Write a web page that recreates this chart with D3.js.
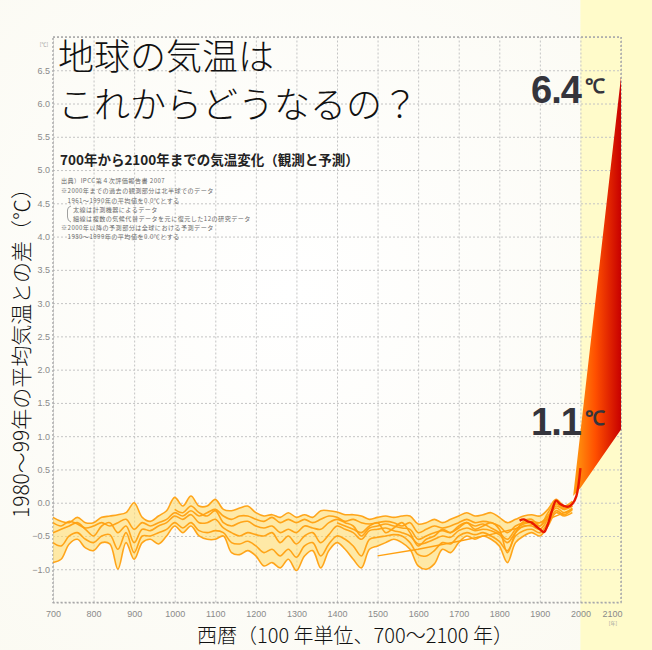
<!DOCTYPE html>
<html><head><meta charset="utf-8">
<script src="https://cdn.jsdelivr.net/npm/d3@7"></script>
<style>
html,body{margin:0;padding:0;background:#fdfcf7;}
svg{display:block;}
</style></head>
<body>
<svg id="c" width="652" height="650"></svg>
<script>
// ---- data ----
const years = d3.range(700, 1981, 20); // 700..1980
const seriesA = [-0.22,-0.28,-0.3,-0.22,-0.3,-0.3,-0.22,-0.2,-0.18,-0.15,
  0.0,-0.22,-0.28,-0.2,-0.12,0.08,-0.05,0.1,-0.05,-0.05,
  0.05,-0.1,-0.12,-0.08,-0.05,-0.15,-0.2,-0.18,-0.22,-0.15,
  -0.22,-0.18,-0.22,-0.12,-0.12,-0.14,-0.18,-0.18,-0.2,-0.25,
  -0.22,-0.2,-0.22,-0.2,-0.2,-0.32,-0.3,-0.25,-0.3,-0.25,
  -0.2,-0.15,-0.2,-0.18,-0.15,-0.22,-0.3,-0.25,-0.2,-0.18,
  -0.2,-0.1,0.05,-0.05,0.02];
const seriesB = [-0.3,-0.35,-0.28,-0.32,-0.38,-0.35,-0.3,-0.35,-0.3,-0.25,
  -0.4,-0.3,-0.35,-0.3,-0.25,-0.15,-0.2,-0.12,-0.2,-0.15,
  -0.1,-0.2,-0.25,-0.2,-0.2,-0.25,-0.28,-0.22,-0.3,-0.25,
  -0.3,-0.25,-0.3,-0.25,-0.2,-0.22,-0.28,-0.25,-0.3,-0.32,
  -0.3,-0.28,-0.3,-0.35,-0.3,-0.45,-0.4,-0.35,-0.38,-0.35,
  -0.3,-0.25,-0.3,-0.28,-0.3,-0.35,-0.45,-0.35,-0.3,-0.28,
  -0.3,-0.2,-0.05,-0.1,-0.05];
const seriesC = [-0.45,-0.4,-0.35,-0.3,-0.4,-0.5,-0.35,-0.3,-0.45,-0.35,
  -0.6,-0.4,-0.42,-0.35,-0.3,-0.2,-0.25,-0.18,-0.3,-0.3,
  -0.25,-0.38,-0.45,-0.5,-0.45,-0.48,-0.5,-0.45,-0.6,-0.5,
  -0.62,-0.5,-0.45,-0.6,-0.48,-0.35,-0.4,-0.45,-0.55,-0.42,
  -0.4,-0.38,-0.42,-0.45,-0.5,-0.62,-0.6,-0.55,-0.5,-0.52,
  -0.42,-0.38,-0.42,-0.4,-0.42,-0.48,-0.6,-0.45,-0.35,-0.35,
  -0.4,-0.25,-0.08,-0.15,-0.08];
const seriesD = [-0.6,-0.65,-0.5,-0.45,-0.55,-0.6,-0.5,-0.48,-0.7,-0.45,
  -0.75,-0.5,-0.5,-0.45,-0.4,-0.3,-0.38,-0.3,-0.42,-0.45,
  -0.42,-0.45,-0.6,-0.62,-0.58,-0.65,-0.75,-0.7,-0.8,-0.7,
  -0.82,-0.65,-0.6,-0.8,-0.62,-0.5,-0.55,-0.65,-0.8,-0.55,
  -0.52,-0.5,-0.48,-0.5,-0.6,-0.78,-0.8,-0.72,-0.6,-0.62,
  -0.5,-0.45,-0.48,-0.45,-0.5,-0.58,-0.72,-0.5,-0.42,-0.4,
  -0.45,-0.3,-0.12,-0.18,-0.1];
const seriesE = [-0.9,-0.85,-0.62,-0.55,-0.68,-0.72,-0.6,-0.62,-1.0,-0.6,
  -0.85,-0.6,-0.55,-0.62,-0.5,-0.35,-0.45,-0.35,-0.5,-0.55,
  -0.55,-0.5,-0.75,-0.78,-0.72,-0.8,-0.95,-0.9,-0.98,-0.85,
  -1.02,-0.8,-0.72,-0.98,-0.72,-0.6,-0.7,-0.85,-0.98,-0.7,
  -0.65,-0.6,-0.55,-0.6,-0.7,-0.95,-1.0,-0.92,-0.7,-0.75,
  -0.6,-0.5,-0.55,-0.5,-0.55,-0.65,-0.9,-0.6,-0.5,-0.45,
  -0.5,-0.35,-0.15,-0.2,-0.15];
const seriesF = [null,null,null,null,null,null,null,null,null,null,
  null,null,null,null,null,-0.1,-0.15,-0.05,-0.15,-0.2,
  -0.12,-0.3,-0.35,-0.3,-0.28,-0.35,-0.38,-0.35,-0.45,-0.4,
  -0.45,-0.35,-0.38,-0.4,-0.3,-0.25,-0.3,-0.35,-0.5,-0.38,
  -0.35,-0.32,-0.35,-0.38,-0.4,-0.55,-0.5,-0.45,-0.42,-0.45,
  -0.35,-0.3,-0.35,-0.32,-0.38,-0.45,-0.55,-0.4,-0.32,-0.3,
  -0.35,-0.22,-0.02,-0.1,0.0];
const seriesG = [null,null,null,null,null,null,null,null,null,null,
  null,null,null,null,null,null,null,null,null,null,
  null,null,null,null,null,null,null,null,null,null,
  null,null,null,null,null,-0.3,-0.35,-0.4,-0.45,-0.35,
  -0.3,-0.45,-0.38,-0.3,-0.45,-0.65,-0.55,-0.5,-0.4,-0.45,
  -0.38,-0.3,-0.4,-0.35,-0.3,-0.4,-0.75,-0.45,-0.28,-0.25,
  -0.35,-0.15,0.0,-0.08,-0.05];
const boreYears = [1500, 1600, 1700, 1800, 1900, 1980];
const boreValues = [-0.8, -0.7, -0.58, -0.45, -0.3, -0.1];
const instYears = [1850,1860,1870,1880,1890,1900,1910,1920,1930,1940,1950,1960,1970,1980,1990,2000];
const instValues = [-0.27,-0.25,-0.28,-0.3,-0.35,-0.4,-0.44,-0.32,-0.12,0.03,-0.02,-0.05,-0.06,-0.02,0.1,0.52];
const projYears = [1982, 2000, 2100];
const projHigh = [0.1, 1.06, 6.4];
const projLow = [0.1, 0.22, 1.1];
const yTicks = [-1.0,-0.5,0.0,0.5,1.0,1.5,2.0,2.5,3.0,3.5,4.0,4.5,5.0,5.5,6.0,6.5];
const xTicks = [700,800,900,1000,1100,1200,1300,1400,1500,1600,1700,1800,1900,2000,2100];
const titleLines = ["地球の気温は", "これからどうなるの？"];
const subtitle = "700年から2100年までの気温変化（観測と予測）";
const notes = [
  "出典）IPCC第４次評価報告書 2007",
  "※2000年までの過去の観測部分は北半球でのデータ",
  "　1961〜1990年の平均値を0.0℃とする",
  "太線は計測機器によるデータ",
  "細線は複数の気候代替データを元に復元した12の研究データ",
  "※2000年以降の予測部分は全球における予測データ",
  "　1980〜1999年の平均値を0.0℃とする"
];
const yTitle = "1980〜99年の平均気温との差（℃）";
const xTitle = "西暦（100 年単位、700〜2100 年）";

// ---- drawing ----
const svg = d3.select("#c");
const W = 652, H = 650;
const x = d3.scaleLinear([700, 2100], [53, 621]);
const y = d3.scaleLinear([-1.5, 7.0], [602.5, 37]);
const JP = "'Noto Sans CJK JP', 'Noto Sans', sans-serif";

const defs = svg.append("defs");
const bg = defs.append("radialGradient").attr("id", "bg").attr("cx", "45%").attr("cy", "45%").attr("r", "75%");
bg.append("stop").attr("offset", "0%").attr("stop-color", "#ffffff");
bg.append("stop").attr("offset", "100%").attr("stop-color", "#fbfaf2");
const fanGrad = defs.append("linearGradient").attr("id", "fan")
  .attr("gradientUnits", "userSpaceOnUse")
  .attr("x1", x(1985)).attr("y1", 0).attr("x2", x(2100)).attr("y2", 0);
fanGrad.append("stop").attr("offset", "0%").attr("stop-color", "#ff9a10");
fanGrad.append("stop").attr("offset", "45%").attr("stop-color", "#ff5000");
fanGrad.append("stop").attr("offset", "100%").attr("stop-color", "#c80000");

svg.append("rect").attr("width", W).attr("height", H).attr("fill", "url(#bg)");
// future band
svg.append("rect").attr("x", x(2000)).attr("y", 0).attr("width", W - x(2000)).attr("height", H)
  .attr("fill", "#fffbca");

// grid
const gridStyle = g => g.selectAll("line").attr("stroke", "#c4c4c4").attr("stroke-dasharray", "2,2").attr("stroke-width", 1);
svg.append("g").attr("transform", `translate(0,${y(-1.5)})`)
  .call(d3.axisBottom(x).tickValues(xTicks).tickSize(-(y(-1.5) - y(7))).tickFormat(""))
  .call(g => g.select(".domain").remove()).call(gridStyle);
svg.append("g").attr("transform", `translate(${x(700)},0)`)
  .call(d3.axisLeft(y).tickValues(yTicks.concat([-1.5, 7.0])).tickSize(-(x(2100) - x(700))).tickFormat(""))
  .call(g => g.select(".domain").remove()).call(gridStyle);
// frame
svg.append("rect").attr("x", x(700)).attr("y", y(7)).attr("width", x(2100) - x(700)).attr("height", y(-1.5) - y(7))
  .attr("fill", "none").attr("stroke", "#a8a8a8").attr("stroke-width", 1.4).attr("stroke-dasharray", "2,2");

// tick labels
svg.append("g").attr("transform", `translate(${x(700) - 3},0)`)
  .call(d3.axisLeft(y).tickValues(yTicks).tickSize(0).tickPadding(0).tickFormat(d3.format(".1f")))
  .call(g => g.select(".domain").remove())
  .call(g => g.selectAll("text").attr("fill", "#8a8a8a").attr("font-size", 9).attr("font-family", "'Liberation Sans', Arial, sans-serif"));
svg.append("g").attr("transform", `translate(0,${y(-1.5) + 4})`)
  .call(d3.axisBottom(x).tickValues(xTicks).tickSize(0).tickPadding(4).tickFormat(d3.format("d")))
  .call(g => g.select(".domain").remove())
  .call(g => g.selectAll("text").attr("fill", "#8a8a8a").attr("font-size", 9).attr("font-family", "'Liberation Sans', Arial, sans-serif"))
  .call(g => g.selectAll(".tick").filter(d => d === 2100).select("text").attr("dx", -9));
svg.append("text").attr("x", x(700) - 9).attr("y", y(7) + 9).attr("font-size", 5).attr("fill", "#999")
  .attr("font-family", JP).attr("text-anchor", "middle").text("[℃]");
svg.append("text").attr("x", x(2100) - 8).attr("y", y(-1.5) + 22).attr("font-size", 5).attr("fill", "#999")
  .attr("font-family", JP).attr("text-anchor", "middle").text("[年]");

// reconstructions
const allSeries = [seriesA, seriesB, seriesC, seriesD, seriesE, seriesF, seriesG];
const band = years.map((yr, i) => {
  const vals = allSeries.map(s => s[i]).filter(v => v != null);
  return {yr, lo: d3.min(vals), hi: d3.max(vals)};
});
svg.append("path").datum(band)
  .attr("d", d3.area().x(d => x(d.yr)).y0(d => y(d.lo)).y1(d => y(d.hi)).curve(d3.curveCatmullRom))
  .attr("fill", "#ffdc70").attr("fill-opacity", 0.6);
const line = d3.line().defined(d => d[1] != null).x(d => x(d[0])).y(d => y(d[1])).curve(d3.curveCatmullRom);
allSeries.forEach(s => {
  svg.append("path").datum(years.map((yr, i) => [yr, s[i]]))
    .attr("d", line).attr("fill", "none").attr("stroke", "#ffa010").attr("stroke-width", 1.6).attr("stroke-opacity", 0.95);
});
svg.append("path").datum(boreYears.map((yr, i) => [yr, boreValues[i]]))
  .attr("d", d3.line().x(d => x(d[0])).y(d => y(d[1])))
  .attr("fill", "none").attr("stroke", "#ffa010").attr("stroke-width", 1.4);

// projection fan
const fanPts = projYears.map((yr, i) => [yr, projHigh[i]]).concat(projYears.map((yr, i) => [yr, projLow[i]]).reverse());
const fanLine = d3.line().x(d => x(d[0])).y(d => y(d[1]));
svg.append("path").datum(fanPts)
  .attr("d", d => fanLine(d) + "Z")
  .attr("fill", "url(#fan)");

// instrumental
svg.append("path").datum(instYears.map((yr, i) => [yr, instValues[i]]))
  .attr("d", d3.line().x(d => x(d[0])).y(d => y(d[1])).curve(d3.curveCatmullRom))
  .attr("fill", "none").attr("stroke", "#e81800").attr("stroke-width", 2.4);

// big value labels
function bigLabel(val, px, py) {
  const t = svg.append("text").attr("x", px).attr("y", py).attr("fill", "#34343c")
    .attr("font-family", "'Liberation Sans', Arial, sans-serif").attr("font-weight", "bold");
  t.append("tspan").attr("font-size", 38).attr("letter-spacing", -1).text(val.toFixed(1));
  t.append("tspan").attr("font-size", 20).attr("dx", 4).attr("dy", -10).text("℃");
}
bigLabel(projHigh[2], 531, 103);
bigLabel(projLow[2], 531, 435);

// title
titleLines.forEach((t, i) => {
  svg.append("text").attr("x", 58).attr("y", 70 + i * 48).attr("font-size", 36).attr("font-weight", 300)
    .attr("font-family", JP).attr("fill", "#111").text(t);
});
svg.append("text").attr("x", 60).attr("y", 165).attr("font-size", 13.5).attr("font-weight", "bold")
  .attr("font-family", JP).attr("fill", "#222").text(subtitle);
const noteY = [183, 193, 203, 212, 221, 230, 239];
const noteX = [61, 61, 61, 73, 73, 61, 61];
notes.forEach((t, i) => {
  svg.append("text").attr("x", noteX[i]).attr("y", noteY[i]).attr("font-size", 6.1).attr("letter-spacing", 0.45)
    .attr("fill", "#6a6a6a").attr("font-family", JP).text(t);
});
svg.append("path").attr("d", "M71,206 Q67.5,207 67.5,210 L67.5,217 Q67.5,221 71,222")
  .attr("fill", "none").attr("stroke", "#888").attr("stroke-width", 0.8);

// axis titles
svg.append("text").attr("transform", "translate(29,348) rotate(-90)").attr("text-anchor", "middle")
  .attr("font-size", 21).attr("font-family", JP).attr("font-weight", 300).attr("fill", "#111").text(yTitle);
svg.append("text").attr("x", 355).attr("y", 643).attr("text-anchor", "middle")
  .attr("font-size", 20).attr("font-family", JP).attr("font-weight", 300).attr("fill", "#111").text(xTitle);
</script>
</body></html>
